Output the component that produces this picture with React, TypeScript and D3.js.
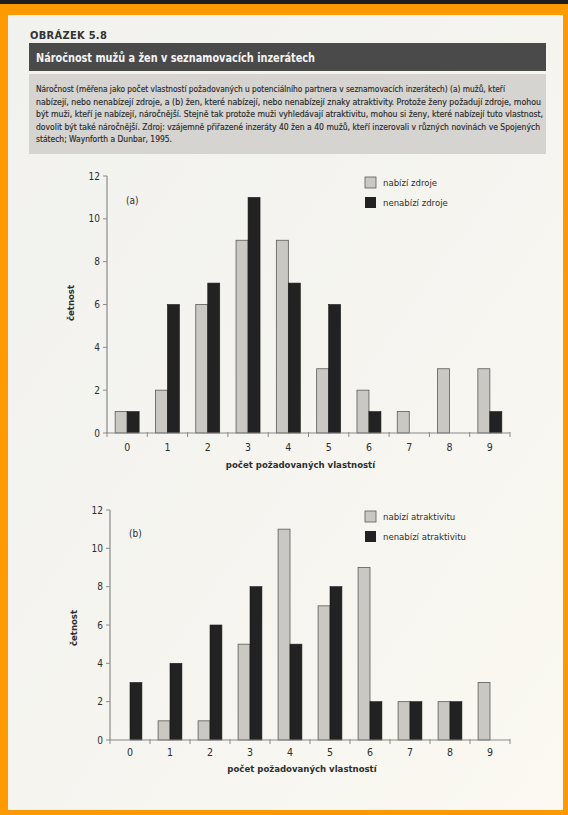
import React from "react";
import * as d3 from "d3";

const categories = ["0", "1", "2", "3", "4", "5", "6", "7", "8", "9"];
const yTicks = [0, 2, 4, 6, 8, 10, 12];

const seriesAName = ["nabízí zdroje", "nenabízí zdroje"];
const seriesA1 = [1, 2, 6, 9, 9, 3, 2, 1, 3, 3];
const seriesA2 = [1, 6, 7, 11, 7, 6, 1, 0, 0, 1];

const seriesBName = ["nabízí atraktivitu", "nenabízí atraktivitu"];
const seriesB1 = [0, 1, 1, 5, 11, 7, 9, 2, 2, 3];
const seriesB2 = [3, 4, 6, 8, 5, 8, 2, 2, 2, 0];

const figLabel = "OBRÁZEK 5.8";
const title = "Náročnost mužů a žen v seznamovacích inzerátech";
const captionLines = [
  "Náročnost (měřena jako počet vlastností požadovaných u potenciálního partnera v seznamovacích inzerátech) (a) mužů, kteří",
  "nabízejí, nebo nenabízejí zdroje, a (b) žen, které nabízejí, nebo nenabízejí znaky atraktivity. Protože ženy požadují zdroje, mohou",
  "být muži, kteří je nabízejí, náročnější. Stejně tak protože muži vyhledávají atraktivitu, mohou si ženy, které nabízejí tuto vlastnost,",
  "dovolit být také náročnější. Zdroj: vzájemně přiřazené inzeráty 40 žen a 40 mužů, kteří inzerovali v různých novinách ve Spojených",
  "státech; Waynforth a Dunbar, 1995.",
];
const captionWidths = [469, 505, 507, 504, 136];
const xTitle = "počet požadovaných vlastností";
const yTitle = "četnost";

const FONT = "'Liberation Sans Narrow', 'DejaVu Sans Condensed', 'Roboto Condensed', 'Open Sans', sans-serif";
const GRAY = "#c9c8c3";
const BLACK = "#222222";
const AXIS = "#8a8a8a";
const TEXT = "#2e2e2e";

type ChartProps = {
  panel: string;
  names: string[];
  s1: number[];
  s2: number[];
  x0: number;
  x1: number;
  yTop: number;
  yBottom: number;
  yTitleY: number;
  xTitleY: number;
  labelY: number;
  legendY: number;
  panelY: number;
};

function Chart(p: ChartProps) {
  const x = d3.scaleBand<string>().domain(categories).range([p.x0, p.x1]).paddingInner(0).paddingOuter(0);
  const xs = d3.scaleBand<string>().domain(["a", "b"]).range([0, x.bandwidth()]).paddingInner(0).paddingOuter(0.68);
  const y = d3.scaleLinear().domain([0, 12]).range([p.yBottom, p.yTop]);
  const boundaries = categories.map((c) => x(c) as number).concat([p.x1]);
  return (
    <g fontFamily={FONT}>
      {categories.map((c, i) => (
        <g key={c}>
          {p.s1[i] > 0 && (
            <rect
              x={(x(c) as number) + (xs("a") as number)}
              y={y(p.s1[i])}
              width={xs.bandwidth()}
              height={y(0) - y(p.s1[i])}
              fill={GRAY}
              stroke="#5a5a5a"
              strokeWidth={0.8}
            />
          )}
          {p.s2[i] > 0 && (
            <rect
              x={(x(c) as number) + (xs("b") as number)}
              y={y(p.s2[i])}
              width={xs.bandwidth()}
              height={y(0) - y(p.s2[i])}
              fill={BLACK}
              stroke="#1a1a1a"
              strokeWidth={0.6}
            />
          )}
        </g>
      ))}
      <line x1={p.x0} x2={p.x0} y1={y(12)} y2={y(0)} stroke={AXIS} strokeWidth={1.2} />
      <line x1={p.x0} x2={p.x1} y1={y(0)} y2={y(0)} stroke={AXIS} strokeWidth={1.2} />
      {yTicks.map((t) => (
        <g key={t}>
          <line x1={p.x0 - 4} x2={p.x0} y1={y(t)} y2={y(t)} stroke={AXIS} strokeWidth={1} />
          <text x={p.x0 - 7} y={y(t) + 3.5} textAnchor="end" fontSize={10} fill={TEXT}>
            {t}
          </text>
        </g>
      ))}
      {boundaries.map((b, i) => (
        <line key={i} x1={b} x2={b} y1={y(0) - 1} y2={y(0) + 4} stroke={AXIS} strokeWidth={1} />
      ))}
      {categories.map((c) => (
        <text key={c} x={(x(c) as number) + x.bandwidth() / 2} y={p.labelY} textAnchor="middle" fontSize={10.5} fill={TEXT}>
          {c}
        </text>
      ))}
      <text x={(p.x0 + p.x1) / 2 - 8} y={p.xTitleY} textAnchor="middle" fontSize={9.5} fontWeight="bold" fill={TEXT}>
        {xTitle}
      </text>
      <text
        transform={`translate(${p.x0 - 33},${p.yTitleY}) rotate(-90)`}
        textAnchor="middle"
        fontSize={9.5}
        fontWeight="bold"
        fill={TEXT}
      >
        {yTitle}
      </text>
      <text x={p.x0 + 19} y={p.panelY} fontSize={10} fill={TEXT}>
        {p.panel}
      </text>
      <rect x={365} y={p.legendY} width={11} height={11} fill={GRAY} stroke="#5a5a5a" strokeWidth={0.8} />
      <text x={383} y={p.legendY + 9} fontSize={9.5} fill={TEXT}>
        {p.names[0]}
      </text>
      <rect x={365} y={p.legendY + 20} width={11} height={11} fill={BLACK} />
      <text x={383} y={p.legendY + 29} fontSize={9.5} fill={TEXT}>
        {p.names[1]}
      </text>
    </g>
  );
}

export default function App() {
  return (
    <svg
      width={568}
      height={815}
      viewBox="0 0 568 815"
      style={{ position: "absolute", left: 0, top: 0, display: "block" }}
    >
      <defs>
        <linearGradient id="page" x1="0" x2="1" y1="0" y2="1">
          <stop offset="0" stopColor="#f1f1ee" />
          <stop offset="0.6" stopColor="#f6f5f0" />
          <stop offset="1" stopColor="#fbf9f0" />
        </linearGradient>
      </defs>
      <rect x={0} y={0} width={568} height={815} fill="#ff9900" />
      <rect x={0} y={0} width={568} height={4} fill="#1f1f1f" />
      <rect x={8} y={15} width={555} height={795} fill="url(#page)" />
      <text x={30} y={39} fontFamily={FONT} fontWeight="bold" fontSize={11} fill="#333" letterSpacing={0.3}>
        {figLabel}
      </text>
      <rect x={29} y={43} width={517} height={28} fill="#4b4a4b" />
      <text x={36} y={62} fontFamily={FONT} fontWeight="bold" fontSize={13} fill="#f4f4f4" textLength={279} lengthAdjust="spacingAndGlyphs">
        {title}
      </text>
      <rect x={29} y={74} width={517} height={80} fill="#d5d4d1" />
      {captionLines.map((l, i) => (
        <text
          key={i}
          x={36}
          y={92 + i * 12.5}
          fontFamily={FONT}
          fontSize={8.5}
          fill="#2a2a2a"
          stroke="#2a2a2a"
          strokeWidth={0.15}
          textLength={captionWidths[i]}
          lengthAdjust="spacingAndGlyphs"
        >
          {l}
        </text>
      ))}
      <Chart
        panel="(a)"
        names={seriesAName}
        s1={seriesA1}
        s2={seriesA2}
        x0={107}
        x1={510}
        yTop={176}
        yBottom={433}
        yTitleY={303}
        xTitleY={468}
        labelY={451}
        legendY={177}
        panelY={204}
      />
      <Chart
        panel="(b)"
        names={seriesBName}
        s1={seriesB1}
        s2={seriesB2}
        x0={110}
        x1={510}
        yTop={510}
        yBottom={740}
        yTitleY={628}
        xTitleY={772}
        labelY={756}
        legendY={511}
        panelY={537}
      />
    </svg>
  );
}
